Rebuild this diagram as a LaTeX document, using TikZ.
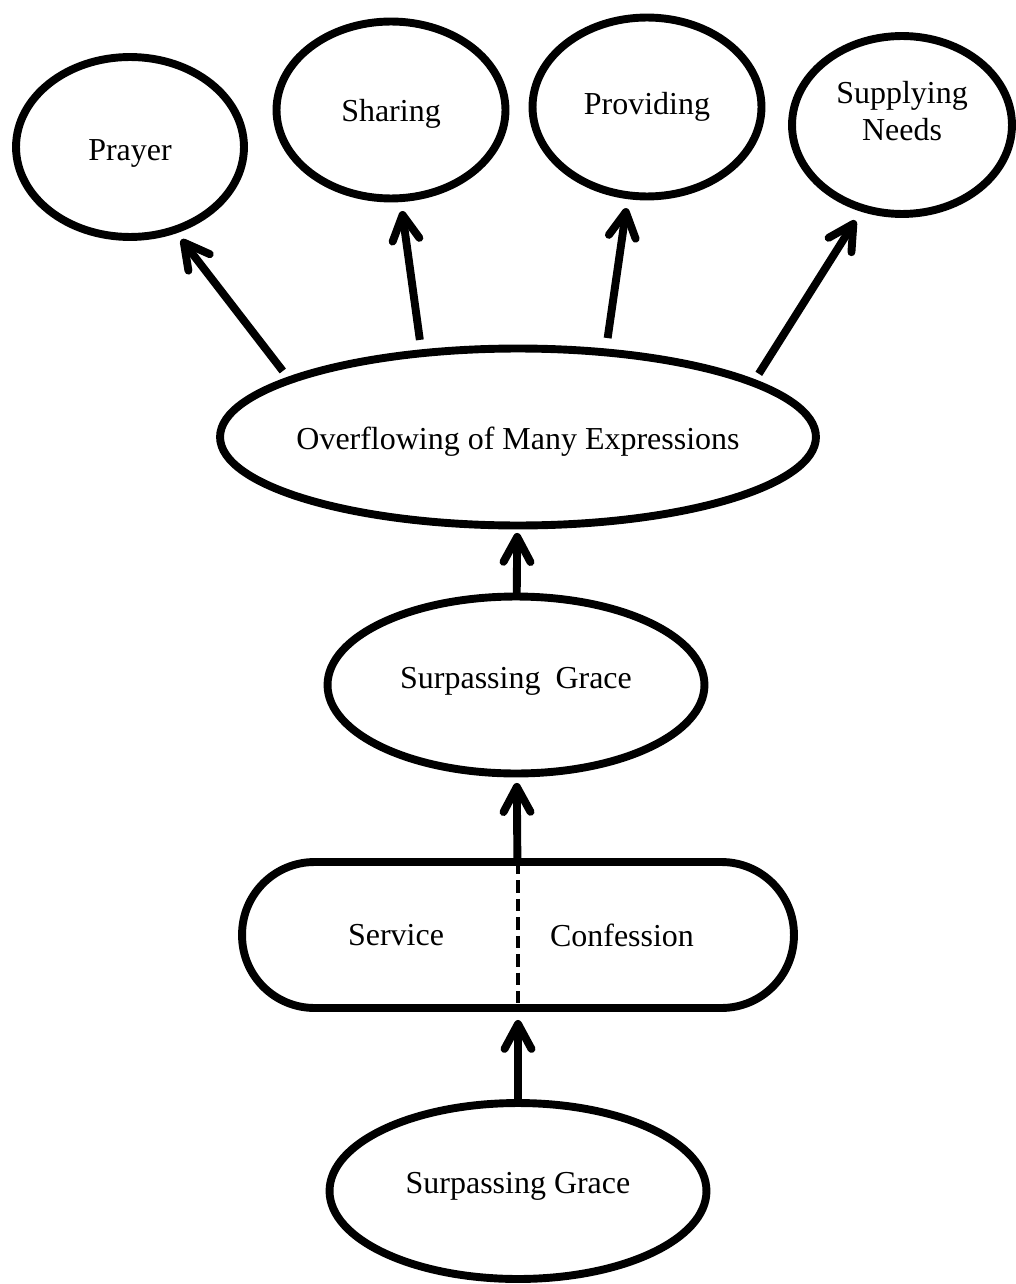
\documentclass[tikz,border=0pt]{standalone}
\usepackage{fontspec}
\setmainfont{Liberation Serif}
\usetikzlibrary{arrows.meta,shapes.geometric}

\begin{document}
\begin{tikzpicture}[x=0.02cm,y=-0.02cm,line width=4.5pt,
every node/.style={font=\fontsize{18.2pt}{21pt}\selectfont},
bubble/.style={draw,ellipse,outer sep=0pt,inner sep=0pt,minimum width=4.56cm,minimum height=3.6cm},
pill/.style={draw,rectangle,rounded corners=1.45cm,outer sep=0pt,minimum width=11.04cm,minimum height=2.92cm},
arrow/.style={-{Straight Barb[length=0.5cm,width=0.54cm,round]}},
divider/.style={line width=2pt,dash pattern=on 7pt off 3.5pt}]
\useasboundingbox (0,0) rectangle (1016,1284);

\node[bubble] (prayer) at (130,147) {\raisebox{-.12cm}[\height][\depth]{Prayer}};
\node[bubble,minimum width=4.58cm,minimum height=3.54cm] (sharing) at (391,110) {\raisebox{-.08cm}[\height][\depth]{Sharing}};
\node[bubble,minimum width=4.58cm,minimum height=3.58cm] (providing) at (647,107) {Providing};
\node[bubble,minimum width=4.4cm,minimum height=3.56cm] (supplying) at (902,125)
  {\raisebox{.2cm}[\height][\depth]{\begin{tabular}{@{}c@{}}Supplying\\Needs\end{tabular}}};

\node[bubble,minimum width=11.92cm,minimum height=3.54cm,
  label={[yshift=-0.1cm]center:Overflowing of Many Expressions}] (overflow) at (518,437) {};
\node[bubble,minimum width=7.54cm,minimum height=3.54cm] (grace) at (516,685)
  {\raisebox{.08cm}[\height][\depth]{Surpassing\hspace{.47em}Grace}};

\node[pill] (duty) at (518,935) {};
\node (service) at (396,935) {Service};
\node (confession) at (622,935) {Confession};
\draw[divider] (duty.north) -- (duty.south);

\node[bubble,minimum width=7.54cm,minimum height=3.52cm] (root) at (518,1191)
  {\raisebox{.1cm}[\height][\depth]{Surpassing Grace}};

% overflowing into the four expressions
\draw[arrow,shorten <=0.23cm,shorten >=0.24cm] (overflow.166.9) -- (prayer.-62.7);
\draw[arrow,shorten <=0.27cm,shorten >=0.26cm] (overflow.139.3) -- (sharing.-84);
\draw[arrow,shorten <=0.29cm,shorten >=0.26cm] (overflow.44.3) -- (providing.-102.2);
\draw[arrow,shorten <=0.21cm,shorten >=0.29cm] (overflow.13.8) -- (supplying.-115.8);

\draw[arrow,shorten >=0.15cm] (grace) -- (overflow);
\draw[arrow,shorten >=0.19cm] (duty) -- (grace);
\draw[arrow,shorten >=0.24cm] (root) -- (duty);
\end{tikzpicture}
\end{document}
